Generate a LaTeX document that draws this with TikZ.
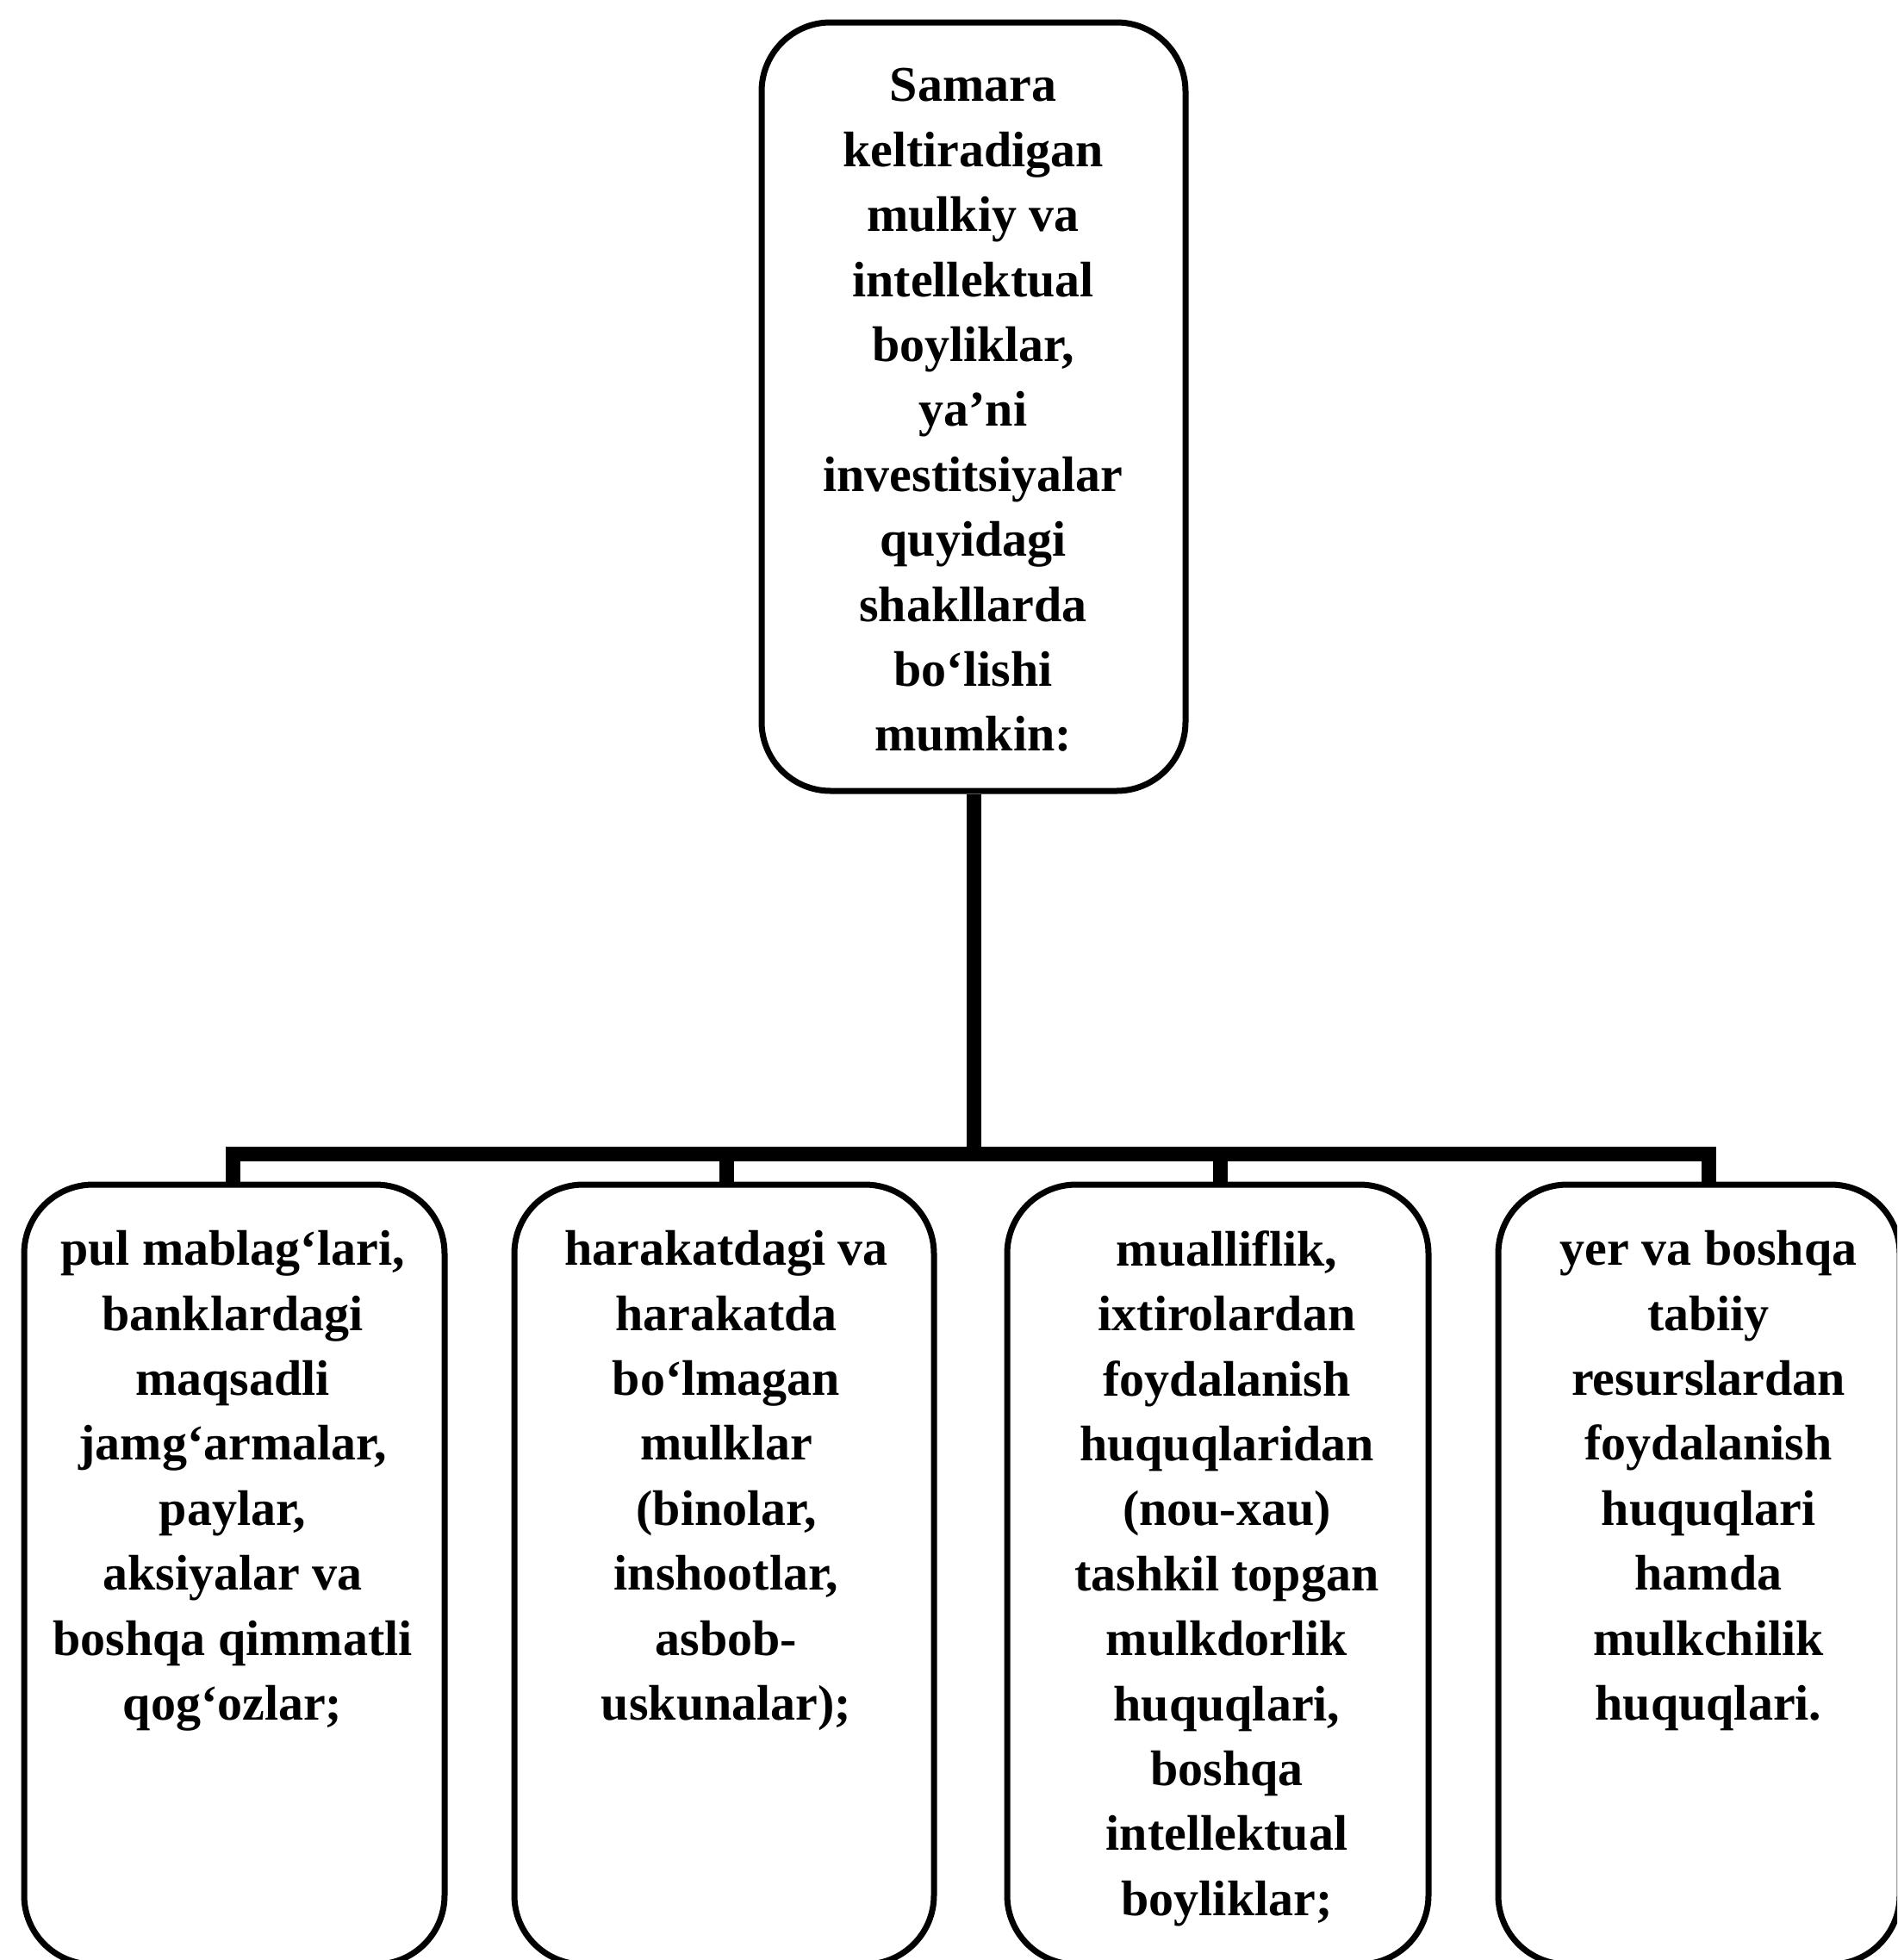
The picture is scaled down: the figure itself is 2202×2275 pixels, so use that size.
\documentclass[tikz,border=0pt]{standalone}
\usepackage{fontspec}
\setmainfont{Liberation Serif}
\usetikzlibrary{positioning}

\tikzset{
    boxNode/.style={draw, line width=3.5pt, rounded corners=40pt, inner sep=0pt},
    textNode/.style={anchor=north, align=center, inner sep=0pt,
        font=\bfseries\fontsize{29}{37.7}\selectfont},
    link/.style={line width=8.5pt, line join=miter}
}

\begin{document}
\begin{tikzpicture}[x=0.5pt, y=-0.5pt]
    \useasboundingbox (0,0) rectangle (2202,2275);
    \clip (0,0) rectangle (2202,2275);

    % Top box
    \node[boxNode, minimum width=246pt, minimum height=446pt] (root) at (1130,472) {};
    \node[textNode] (rootText) at (1129.5,79) {Samara\\keltiradigan\\mulkiy va\\intellektual\\boyliklar,\\ya’ni\\investitsiyalar\\quyidagi\\shakllarda\\bo‘lishi\\mumkin:};

    % Bottom boxes
    \node[boxNode, minimum width=244pt, minimum height=452.5pt] (a) at (272,1827.5) {};
    \node[boxNode, minimum width=243.5pt, minimum height=452.5pt] (b) at (840.5,1827.5) {};
    \node[boxNode, minimum width=244.5pt, minimum height=452.5pt] (c) at (1413.5,1827.5) {};
    \node[boxNode, minimum width=233pt, minimum height=452.5pt] (d) at (1972,1827.5) {};

    % Texts of the bottom boxes
    \node[textNode] (aText) at (270,1428) {pul mablag‘lari,\\banklardagi\\maqsadli\\jamg‘armalar,\\paylar,\\aksiyalar va\\boshqa qimmatli\\qog‘ozlar;};
    \node[textNode] (bText) at (843,1428) {harakatdagi va\\harakatda\\bo‘lmagan\\mulklar\\(binolar,\\inshootlar,\\asbob-\\uskunalar);};
    \node[textNode] (cText) at (1424,1428) {mualliflik,\\ixtirolardan\\foydalanish\\huquqlaridan\\(nou-xau)\\tashkil topgan\\mulkdorlik\\huquqlari,\\boshqa\\intellektual\\boyliklar;};
    \node[textNode] (dText) at (1983,1428) {yer va boshqa\\tabiiy\\resurslardan\\foydalanish\\huquqlari\\hamda\\mulkchilik\\huquqlari.};

    % Branch points
    \coordinate (hub) at (1127,1339);
    \coordinate (ja) at (270,1339);
    \coordinate (jb) at (843,1339);
    \coordinate (jc) at (1416,1339);
    \coordinate (jd) at (1983,1339);

    % Edges
    \draw[link] (root.south) -- (root.south |- hub);
    \draw[link] (ja |- a.north) -- (ja) -- (jd) -- (jd |- d.north);
    \draw[link] (jb) -- (jb |- b.north);
    \draw[link] (jc) -- (jc |- c.north);
\end{tikzpicture}
\end{document}
